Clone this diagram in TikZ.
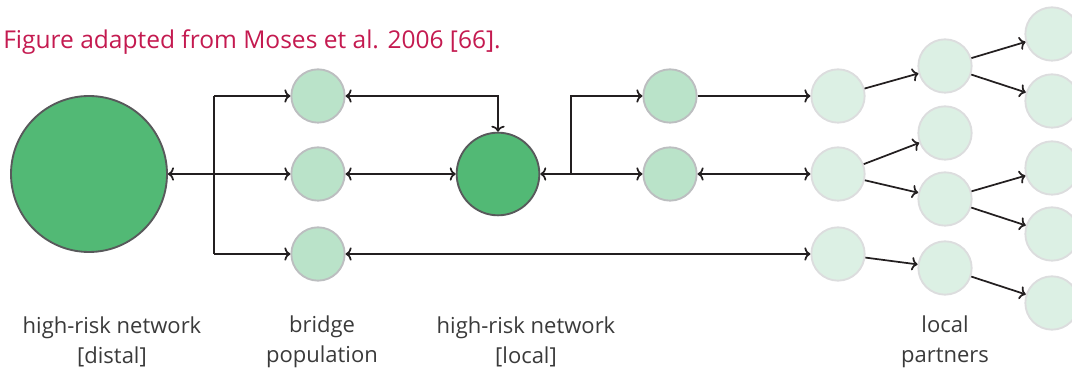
\documentclass[tikz,border=0pt]{standalone}
\usepackage{fontspec}
\setmainfont{Open Sans}
\usepackage{xcolor}
\usepackage{tikz}
\usetikzlibrary{arrows.meta}

\definecolor{riskgreen}{HTML}{52B975}
\definecolor{riskline}{HTML}{58595B}
\definecolor{bridgegreen}{HTML}{BAE3C9}
\definecolor{bridgeline}{HTML}{BCBEC0}
\definecolor{partnergreen}{HTML}{DCF0E4}
\definecolor{partnerline}{HTML}{DCDDDE}
\definecolor{captionred}{HTML}{C41A50}
\definecolor{labelgray}{HTML}{3A3A3A}
\definecolor{arrowblack}{HTML}{231F20}

\tikzset{
  risk/.style={circle,draw=riskline,fill=riskgreen,line width=1.4pt,inner sep=0pt},
  bridge/.style={circle,draw=bridgeline,fill=bridgegreen,line width=1.4pt,inner sep=0pt,minimum size=40pt},
  partner/.style={circle,draw=partnerline,fill=partnergreen,line width=1.4pt,inner sep=0pt,minimum size=40pt},
  link/.style={draw=arrowblack,line width=1.3pt,-{To[length=4.5pt,width=10pt]}},
  dlink/.style={draw=arrowblack,line width=1.3pt,{To[length=4.5pt,width=10pt]}-{To[length=4.5pt,width=10pt]}},
  grouplabel/.style={align=center,text=labelgray,font=\fontsize{16.5}{22.5}\selectfont}
}

\begin{document}
\begin{tikzpicture}[x=0.75pt,y=-0.75pt]
                \useasboundingbox (0,0) rectangle (1072,377);

                % Define the caption
                \node[anchor=west,inner xsep=0pt,text=captionred,font=\fontsize{18.4}{22}\selectfont] (caption) at (3,42) {Figure adapted from Moses et al. 2006 [66].};

                % Define the high-risk networks
                \node[risk,minimum size=117pt] (distal) at (89,174) {};
                \node[risk,minimum size=62pt] (local) at (498,174) {};

                % Define the bridge population
                \node[bridge] (b1) at (318,96) {};
                \node[bridge] (b2) at (318,174) {};
                \node[bridge] (b3) at (318,254) {};
                \node[bridge] (r1) at (670,96) {};
                \node[bridge] (r2) at (670,174) {};

                % Define the local partners
                \node[partner] (p1) at (838,96) {};
                \node[partner] (p2) at (838,174) {};
                \node[partner] (p3) at (838,254) {};
                \node[partner] (q1) at (945,66) {};
                \node[partner] (q2) at (945,133) {};
                \node[partner] (q3) at (945,199) {};
                \node[partner] (q4) at (945,268) {};
                \node[partner] (s1) at (1052,34) {};
                \node[partner] (s2) at (1052,101) {};
                \node[partner] (s3) at (1052,168) {};
                \node[partner] (s4) at (1052,234) {};
                \node[partner] (s5) at (1052,303) {};

                % Connect distal network and bridge population
                \coordinate (jtop) at (214,96);
                \coordinate (jbot) at (214,254);
                \draw[draw=arrowblack,line width=1.3pt] (jtop) -- (jbot);
                \draw[link] (jtop) -- (b1);
                \draw[link] (jbot) -- (b3);
                \draw[dlink] (distal) -- (b2);

                % Connect bridge population and local network
                \draw[dlink] (b1) -| (local);
                \draw[dlink] (b2) -- (local);
                \draw[dlink] (b3) -- (p3);

                % Connect local network and its bridges
                \coordinate (jright) at (571,174);
                \draw[dlink] (local) -- (r2);
                \draw[link] (jright) |- (r1);
                \draw[link] (r1) -- (p1);
                \draw[dlink] (r2) -- (p2);

                % Spread among local partners
                \draw[link] (p1) -- (q1);
                \draw[link] (p2) -- (q2);
                \draw[link] (p2) -- (q3);
                \draw[link] (p3) -- (q4);
                \draw[link] (q1) -- (s1);
                \draw[link] (q1) -- (s2);
                \draw[link] (q3) -- (s3);
                \draw[link] (q3) -- (s4);
                \draw[link] (q4) -- (s5);

                % Add labels for the groups
                \node[grouplabel] (distallabel) at (112,342) {high-risk network\\{}[distal]};
                \node[grouplabel] (bridgelabel) at (322,342) {bridge\\population};
                \node[grouplabel] (locallabel) at (526,342) {high-risk network\\{}[local]};
                \node[grouplabel] (partnerlabel) at (945,342) {local\\partners};

            \end{tikzpicture}
\end{document}
